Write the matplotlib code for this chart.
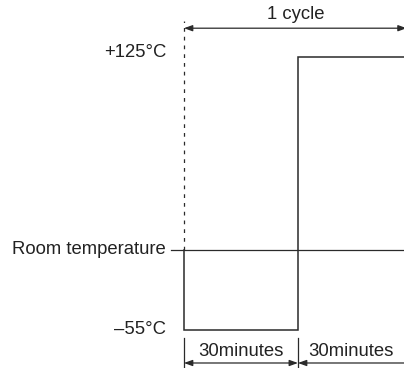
import matplotlib.pyplot as plt

plt.rcParams['font.family'] = ['Liberation Sans', 'DejaVu Sans']

# Temperature cycle (schematic): start at room temperature, dwell at low, then high
room_temp = -2
low_temp = -55
high_temp = 125
step_minutes = [30, 30]
step_labels = ["30minutes", "30minutes"]
level_labels = ["+125°C", "Room temperature", "–55°C"]

times = [0, 0, step_minutes[0], step_minutes[0], sum(step_minutes)]
temps = [room_temp, low_temp, low_temp, high_temp, high_temp]

fig = plt.figure(figsize=(4.04, 3.68), dpi=100)
ax = fig.add_axes([0, 0, 1, 1])
ax.set_xlim(-48.4, 57.9)
ax.set_ylim(-80.1, 162.6)
ax.axis('off')

fs = 13.3
lw = 1.1
# waveform
ax.plot(times, temps, color='#2a2a2a', lw=lw, solid_joinstyle='miter')

# room temperature reference line
ax.plot([-3.4, 60], [room_temp, room_temp], color='#2a2a2a', lw=0.9)

# dashed start marker
ax.plot([0, 0], [room_temp, 149], color='#2a2a2a', lw=0.9,
        linestyle=(0, (3, 4)))

# level labels
label_x = -4.7
for txt, y in zip(level_labels, [high_temp + 3, room_temp, low_temp]):
    ax.text(label_x, y, txt, ha='right', va='center', fontsize=fs,
            color='#222222')

arrow_kw = dict(arrowstyle='<|-|>,head_length=0.5,head_width=0.18',
                color='#2a2a2a', lw=0.9, shrinkA=0, shrinkB=0)

# one cycle span
ax.annotate('', xy=(0, 144), xytext=(58.6, 144), arrowprops=arrow_kw,
            annotation_clip=False)
ax.text(29.3, 153, "1 cycle", ha='center', va='center', fontsize=fs,
        color='#222222')

# bottom dwell-time spans
edges = [0, step_minutes[0], sum(step_minutes) + 0.6]
for x in edges[:2]:
    ax.plot([x, x], [-60.3, -82], color='#2a2a2a', lw=0.9, clip_on=False)
for i, txt in enumerate(step_labels):
    ax.annotate('', xy=(edges[i], -76.8), xytext=(edges[i + 1], -76.8),
                arrowprops=arrow_kw, annotation_clip=False)
    mid = (edges[i] + min(edges[i + 1], 57.9)) / 2
    ax.text(mid, -69.5, txt, ha='center', va='center', fontsize=fs,
            color='#222222')

fig.savefig('out.png', dpi=100)
